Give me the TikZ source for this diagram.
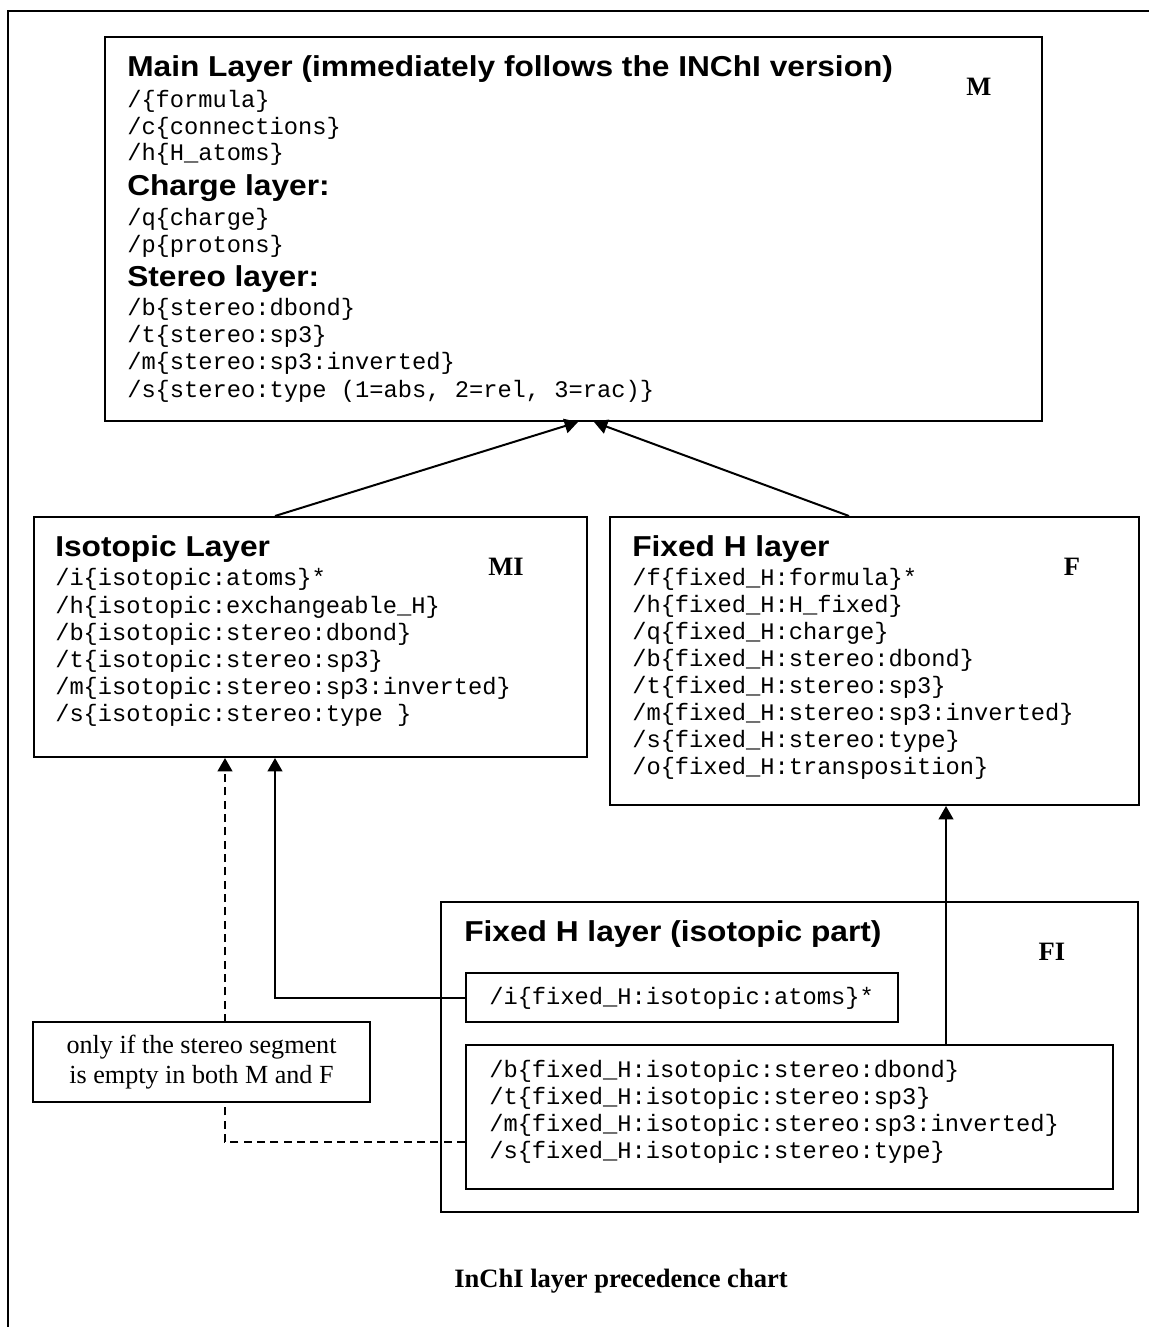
\documentclass[tikz,border=0pt]{standalone}
\usepackage{fontspec}
\setmainfont{Liberation Serif}
\setmonofont{Liberation Mono}
\newfontfamily\headfont[FakeStretch=1.1]{Liberation Sans}
\usetikzlibrary{arrows.meta,calc}

\begin{document}
\begin{tikzpicture}[
  x=0.75pt, y=-0.75pt,
  layer/.style 2 args={draw, line width=1.5pt, minimum width=#1*0.75pt,
                       minimum height=#2*0.75pt, inner sep=0pt},
  head/.style={anchor=mid west, inner sep=0pt,
               font=\headfont\bfseries\fontsize{21.6}{24}\selectfont},
  code/.style={anchor=mid west, inner sep=0pt,
               font=\ttfamily\fontsize{17.8}{20}\selectfont},
  tag/.style={inner sep=0pt, font=\bfseries\fontsize{19.9}{24}\selectfont},
  cond/.style={draw, fill=white, line width=1.5pt, align=center,
               minimum width=337*0.75pt, minimum height=80*0.75pt,
               font=\fontsize{19.6}{22.5}\selectfont},
  arrow/.style={-{Triangle[length=10pt,width=11pt]}, line width=1.5pt},
  dashedarrow/.style={arrow, dash pattern=on 6pt off 4pt}
]
\useasboundingbox (0,0) rectangle (1149,1327);

% page frame
\draw[line width=1.5pt] (8,1327) -- (8,11) -- (1149,11);

% Boxes
\node[layer={937}{384}] (M) at (573.5,229) {};
\node[layer={553}{240}] (MI) at (310.5,637) {};
\node[layer={529}{288}] (F) at (874.5,661) {};
\node[layer={697}{310}] (FI) at (789.5,1057) {};
\node[layer={432}{49}] (FIatoms) at (682,997.5) {};
\node[layer={647}{144}] (FIstereo) at (789.5,1117) {};

% Main layer
\node[head] (mainTitle) at (127,73) {Main Layer (immediately follows the INChI version)};
\node[code] (mainF) at (127,104) {/\{formula\}};
\node[code] (mainC) at (127,131) {/c\{connections\}};
\node[code] (mainH) at (127,157) {/h\{H\_atoms\}};
\node[head] (chgTitle) at (127,192) {Charge layer:};
\node[code] (chgQ) at (127,222) {/q\{charge\}};
\node[code] (chgP) at (127,249) {/p\{protons\}};
\node[head] (stTitle) at (127,283) {Stereo layer:};
\node[code] (stB) at (127,312) {/b\{stereo:dbond\}};
\node[code] (stT) at (127,339) {/t\{stereo:sp3\}};
\node[code] (stM) at (127,366) {/m\{stereo:sp3:inverted\}};
\node[code] (stS) at (127,394) {/s\{stereo:type (1=abs, 2=rel, 3=rac)\}};
\node[tag] (tagM) at (979,87) {M};

% Isotopic layer
\node[head] (isoTitle) at (55,553) {Isotopic Layer};
\node[code] (isoI) at (55,582) {/i\{isotopic:atoms\}*};
\node[code] (isoH) at (55,610) {/h\{isotopic:exchangeable\_H\}};
\node[code] (isoB) at (55,637) {/b\{isotopic:stereo:dbond\}};
\node[code] (isoT) at (55,664) {/t\{isotopic:stereo:sp3\}};
\node[code] (isoM) at (55,691) {/m\{isotopic:stereo:sp3:inverted\}};
\node[code] (isoS) at (55,718) {/s\{isotopic:stereo:type \}};
\node[tag] (tagMI) at (506,567) {MI};

% Fixed H layer
\node[head] (fixTitle) at (632,553) {Fixed H layer};
\node[code] (fixF) at (632,582) {/f\{fixed\_H:formula\}*};
\node[code] (fixH) at (632,609) {/h\{fixed\_H:H\_fixed\}};
\node[code] (fixQ) at (632,636) {/q\{fixed\_H:charge\}};
\node[code] (fixB) at (632,663) {/b\{fixed\_H:stereo:dbond\}};
\node[code] (fixT) at (632,690) {/t\{fixed\_H:stereo:sp3\}};
\node[code] (fixM) at (632,717) {/m\{fixed\_H:stereo:sp3:inverted\}};
\node[code] (fixS) at (632,744) {/s\{fixed\_H:stereo:type\}};
\node[code] (fixO) at (632,771) {/o\{fixed\_H:transposition\}};
\node[tag] (tagF) at (1072,567) {F};

% Fixed H layer (isotopic part)
\node[head] (fiTitle) at (464,938) {Fixed H layer (isotopic part)};
\node[code] (fiI) at (489,1001) {/i\{fixed\_H:isotopic:atoms\}*};
\node[code] (fiB) at (489,1074) {/b\{fixed\_H:isotopic:stereo:dbond\}};
\node[code] (fiT) at (489,1101) {/t\{fixed\_H:isotopic:stereo:sp3\}};
\node[code] (fiM) at (489,1128) {/m\{fixed\_H:isotopic:stereo:sp3:inverted\}};
\node[code] (fiS) at (489,1155) {/s\{fixed\_H:isotopic:stereo:type\}};
\node[tag] (tagFI) at (1052,952) {FI};

% Arrows
\draw[arrow] ($(MI.north)+(-35.5,0)$) -- ($(M.south)+(4.5,0)$);
\draw[arrow] ($(F.north)+(-25.5,0)$) -- ($(M.south)+(20.5,0)$);
\draw[arrow] ($(FIstereo.north)+(156.5,0)$) -- ($(F.south)+(71.5,0)$);
\draw[arrow] (FIatoms.west) -| ($(MI.south)+(-35.5,0)$);
\draw[dashedarrow] ($(FIstereo.west)+(0,25)$) -| ($(MI.south)+(-85.5,0)$);

% condition note (drawn over the dashed line)
\node[cond] (stereoNote) at (201.5,1062) {only if the stereo segment\\is empty in both M and F};

\node[tag] (caption) at (621,1281) {InChI layer precedence chart};
\end{tikzpicture}
\end{document}
